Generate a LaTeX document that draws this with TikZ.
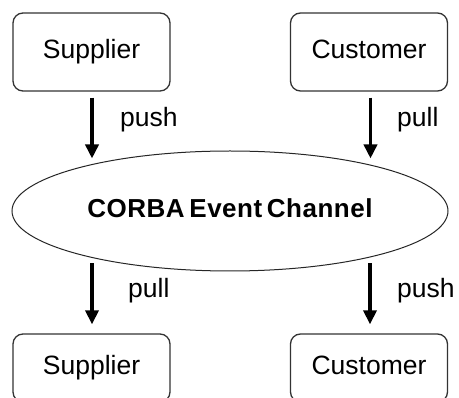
\documentclass[tikz,border=0pt]{standalone}
\usepackage{fontspec}
\setmainfont{Liberation Sans}
\newfontfamily\chanfont[LetterSpace=2,WordSpace=0.6]{Liberation Sans}
\usetikzlibrary{arrows.meta,shapes.geometric}
\begin{document}
\begin{tikzpicture}[x=1pt,y=-1pt,
  box/.style={draw=black!80, line width=1.3pt, rounded corners=10pt,
    minimum width=157pt, minimum height=78pt, inner sep=0pt,
    font=\fontsize{26.5}{30}\selectfont, text height=19.4pt, text depth=5.6pt},
  channel/.style={draw=black!85, line width=1pt, ellipse, inner sep=0pt,
    minimum width=436pt, minimum height=120pt,
    font=\chanfont\bfseries\fontsize{26}{30}\selectfont,
    text height=18.6pt, text depth=4.6pt},
  flow/.style={line width=3.5pt, -{Triangle[width=13pt,length=14pt]}},
  lbl/.style={font=\fontsize{26.5}{30}\selectfont, inner sep=0pt, anchor=base west}]
\useasboundingbox (0,0) rectangle (459,398);
\clip (0,0) rectangle (459,398);

\node[box] (sup1) at (91.5,52) {Supplier};
\node[box] (cus1) at (369,52) {Customer};
\node[channel] (chan) at (230,211) {CORBA Event Channel};
\node[box, minimum height=68pt] (sup2) at (91.5,368) {Supplier};
\node[box, minimum height=68pt] (cus2) at (369,368) {Customer};

\draw[flow] ([xshift=0.5pt,yshift=-6pt]sup1.south) -- ([xshift=0.5pt,yshift=-8pt]sup1.south |- chan.north);
\draw[flow] ([xshift=1.5pt,yshift=-6pt]cus1.south) -- ([xshift=1.5pt,yshift=-8pt]cus1.south |- chan.north);
\draw[flow] ([xshift=0.5pt,yshift=8pt]sup2.north |- chan.south) -- ([xshift=0.5pt,yshift=9pt]sup2.north);
\draw[flow] ([xshift=1pt,yshift=8pt]cus2.north |- chan.south) -- ([xshift=1pt,yshift=9pt]cus2.north);

\node[lbl] (l1) at (120,127) {push};
\node[lbl] (l2) at (397,127) {pull};
\node[lbl] (l3) at (128,298) {pull};
\node[lbl] (l4) at (397,298) {push};
\end{tikzpicture}
\end{document}
